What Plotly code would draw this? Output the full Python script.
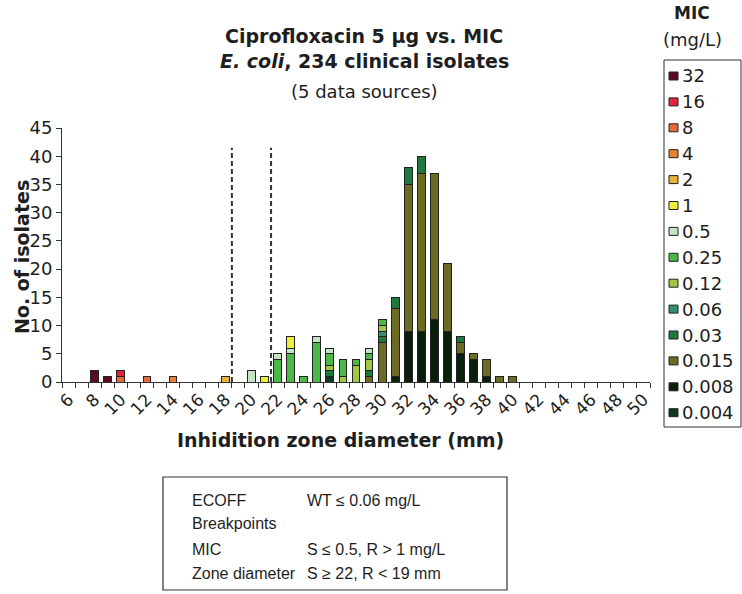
import plotly.graph_objects as go

# ---------------- data ----------------
diameters = [6, 7, 8, 9, 10, 11, 12, 13, 14, 15, 16, 17, 18, 19, 20, 21, 22, 23, 24, 25,
             26, 27, 28, 29, 30, 31, 32, 33, 34, 35, 36, 37, 38, 39, 40, 41, 42, 43, 44, 45,
             46, 47, 48, 49, 50]
tick_labels = ["6", "8", "10", "12", "14", "16", "18", "20", "22", "24", "26", "28", "30",
               "32", "34", "36", "38", "40", "42", "44", "46", "48", "50"]
tick_positions = [6, 8, 10, 12, 14, 16, 18, 20, 22, 24, 26, 28, 30, 32, 34, 36, 38, 40, 42, 44, 46, 48, 50]

#                6  7  8  9 10 11 12 13 14 15 16 17 18 19 20 21 22 23 24 25 26 27 28 29 30 31 32 33 34 35 36 37 38 39 40 41 42 43 44 45 46 47 48 49 50
mic_32    = [0, 0, 2, 1, 0, 0, 0, 0, 0, 0, 0, 0, 0, 0, 0, 0, 0, 0, 0, 0, 0, 0, 0, 0, 0, 0, 0, 0, 0, 0, 0, 0, 0, 0, 0, 0, 0, 0, 0, 0, 0, 0, 0, 0, 0]
mic_16    = [0, 0, 0, 0, 1, 0, 0, 0, 0, 0, 0, 0, 0, 0, 0, 0, 0, 0, 0, 0, 0, 0, 0, 0, 0, 0, 0, 0, 0, 0, 0, 0, 0, 0, 0, 0, 0, 0, 0, 0, 0, 0, 0, 0, 0]
mic_8     = [0, 0, 0, 0, 1, 0, 1, 0, 0, 0, 0, 0, 0, 0, 0, 0, 0, 0, 0, 0, 0, 0, 0, 0, 0, 0, 0, 0, 0, 0, 0, 0, 0, 0, 0, 0, 0, 0, 0, 0, 0, 0, 0, 0, 0]
mic_4     = [0, 0, 0, 0, 0, 0, 0, 0, 1, 0, 0, 0, 0, 0, 0, 0, 0, 0, 0, 0, 0, 0, 0, 0, 0, 0, 0, 0, 0, 0, 0, 0, 0, 0, 0, 0, 0, 0, 0, 0, 0, 0, 0, 0, 0]
mic_2     = [0, 0, 0, 0, 0, 0, 0, 0, 0, 0, 0, 0, 1, 0, 0, 0, 0, 0, 0, 0, 0, 0, 0, 0, 0, 0, 0, 0, 0, 0, 0, 0, 0, 0, 0, 0, 0, 0, 0, 0, 0, 0, 0, 0, 0]
mic_1     = [0, 0, 0, 0, 0, 0, 0, 0, 0, 0, 0, 0, 0, 0, 0, 1, 0, 2, 0, 0, 0, 0, 0, 0, 0, 0, 0, 0, 0, 0, 0, 0, 0, 0, 0, 0, 0, 0, 0, 0, 0, 0, 0, 0, 0]
mic_0_5   = [0, 0, 0, 0, 0, 0, 0, 0, 0, 0, 0, 0, 0, 0, 2, 0, 1, 1, 0, 1, 1, 0, 0, 1, 0, 0, 0, 0, 0, 0, 0, 0, 0, 0, 0, 0, 0, 0, 0, 0, 0, 0, 0, 0, 0]
mic_0_25  = [0, 0, 0, 0, 0, 0, 0, 0, 0, 0, 0, 0, 0, 0, 0, 0, 4, 5, 1, 7, 2, 3, 1, 1, 1, 0, 0, 0, 0, 0, 0, 0, 0, 0, 0, 0, 0, 0, 0, 0, 0, 0, 0, 0, 0]
mic_0_12  = [0, 0, 0, 0, 0, 0, 0, 0, 0, 0, 0, 0, 0, 0, 0, 0, 0, 0, 0, 0, 1, 1, 3, 2, 1, 0, 0, 0, 0, 0, 0, 0, 0, 0, 0, 0, 0, 0, 0, 0, 0, 0, 0, 0, 0]
mic_0_06  = [0, 0, 0, 0, 0, 0, 0, 0, 0, 0, 0, 0, 0, 0, 0, 0, 0, 0, 0, 0, 0, 0, 0, 0, 1, 0, 0, 0, 0, 0, 0, 0, 0, 0, 0, 0, 0, 0, 0, 0, 0, 0, 0, 0, 0]
mic_0_03  = [0, 0, 0, 0, 0, 0, 0, 0, 0, 0, 0, 0, 0, 0, 0, 0, 0, 0, 0, 0, 1, 0, 0, 1, 1, 2, 3, 3, 0, 0, 1, 0, 0, 0, 0, 0, 0, 0, 0, 0, 0, 0, 0, 0, 0]
mic_0_015 = [0, 0, 0, 0, 0, 0, 0, 0, 0, 0, 0, 0, 0, 0, 0, 0, 0, 0, 0, 0, 0, 0, 0, 1, 7, 12, 26, 28, 26, 12, 2, 1, 3, 1, 1, 0, 0, 0, 0, 0, 0, 0, 0, 0, 0]
mic_0_008 = [0, 0, 0, 0, 0, 0, 0, 0, 0, 0, 0, 0, 0, 0, 0, 0, 0, 0, 0, 0, 0, 0, 0, 0, 0, 1, 9, 9, 11, 9, 5, 4, 1, 0, 0, 0, 0, 0, 0, 0, 0, 0, 0, 0, 0]
mic_0_004 = [0, 0, 0, 0, 0, 0, 0, 0, 0, 0, 0, 0, 0, 0, 0, 0, 0, 0, 0, 0, 1, 0, 0, 0, 0, 0, 0, 0, 0, 0, 0, 0, 0, 0, 0, 0, 0, 0, 0, 0, 0, 0, 0, 0, 0]

mic_labels = ["32", "16", "8", "4", "2", "1", "0.5", "0.25", "0.12", "0.06", "0.03", "0.015", "0.008", "0.004"]
mic_series = [mic_32, mic_16, mic_8, mic_4, mic_2, mic_1, mic_0_5, mic_0_25, mic_0_12,
              mic_0_06, mic_0_03, mic_0_015, mic_0_008, mic_0_004]
mic_colors = ["#5c0c20", "#e0243a", "#e6683c", "#e88232", "#e8b43a", "#eeee3c", "#c4e4c4",
              "#4cb848", "#a0c840", "#2e9070", "#1e7a3c", "#6b6b24", "#0a1e0c", "#10381c"]

zone_r_below = 19   # R < 19 mm
zone_s_atleast = 22  # S >= 22 mm

# ---------------- geometry helpers (pixels -> paper) ----------------
L, R, T, B = 62, 650, 128, 382
W, H = 742, 594


def fx(px):
    return (px - L) / (R - L)


def fy(py):
    return (B - py) / (B - T)


CH_FONT = "DejaVu Sans"
INK = "#1e1e1e"

fig = go.Figure()

# bottom of stack = lowest MIC
for lab, vals, col in reversed(list(zip(mic_labels, mic_series, mic_colors))):
    fig.add_trace(go.Bar(
        x=diameters,
        y=[v if v else None for v in vals],
        name=lab,
        marker=dict(color=col, line=dict(color="#222222", width=1)),
        width=0.6,
        showlegend=False,
    ))

shapes = []
for bp in (zone_r_below - 0.5, zone_s_atleast - 0.5):
    shapes.append(dict(type="line", xref="x", yref="y", x0=bp, x1=bp, y0=0, y1=41.5,
                       line=dict(color="#333333", width=2, dash="5px,3px")))

annotations = []


def note(text, px, py, size, xanchor="center", angle=0, family=CH_FONT):
    annotations.append(dict(text=text, x=fx(px), y=fy(py), xref="paper", yref="paper",
                            xanchor=xanchor, yanchor="middle", showarrow=False, textangle=angle,
                            font=dict(family=family, size=size, color=INK)))


# titles
note("<b>Ciprofloxacin 5 μg vs. MIC</b>", 364, 36, 19)
note("<b><i>E. coli</i>, 234 clinical isolates</b>", 364, 61, 19)
note("(5 data sources)", 364, 91, 18)
# axis titles
note("<b>No. of isolates</b>", 22, 257, 19, angle=-90)
note("<b>Inhidition zone diameter (mm)</b>", 340, 440, 19)

# legend (drawn from the MIC lists)
note("<b>MIC</b>", 692, 13, 17)
note("(mg/L)", 692, 40, 18)
shapes.append(dict(type="rect", xref="paper", yref="paper", x0=fx(664), x1=fx(741),
                   y0=fy(60), y1=fy(427), line=dict(color="#333333", width=1), fillcolor="rgba(0,0,0,0)"))
for i, (lab, col) in enumerate(zip(mic_labels, mic_colors)):
    yc = 76 + 25.9 * i
    shapes.append(dict(type="rect", xref="paper", yref="paper", x0=fx(669), x1=fx(678),
                       y0=fy(yc - 4), y1=fy(yc + 4), fillcolor=col,
                       line=dict(color="#222222", width=1)))
    note(lab, 680, yc, 18, xanchor="left")

# info box
BOX_FONT = "Liberation Sans, Arial"
shapes.append(dict(type="rect", xref="paper", yref="paper", x0=fx(163), x1=fx(507),
                   y0=fy(477), y1=fy(590), line=dict(color="#333333", width=1.2),
                   fillcolor="rgba(0,0,0,0)"))
box_rows = [("ECOFF", "WT ≤ 0.06 mg/L", 500),
            ("Breakpoints", "", 523),
            ("MIC", "S ≤ 0.5, R > 1 mg/L", 549),
            ("Zone diameter", "S ≥ 22, R < 19 mm", 573)]
for left, right, yy in box_rows:
    note(left, 190, yy, 16, xanchor="left", family=BOX_FONT)
    if right:
        note(right, 305, yy, 16, xanchor="left", family=BOX_FONT)

fig.update_layout(
    width=W, height=H,
    margin=dict(l=L, r=W - R, t=T, b=H - B, autoexpand=False),
    barmode="stack",
    paper_bgcolor="white", plot_bgcolor="white",
    font=dict(family=CH_FONT, color=INK),
    shapes=shapes, annotations=annotations,
    showlegend=False,
    xaxis=dict(range=[5.5, 50.5], tickmode="array", tickvals=tick_positions, ticktext=tick_labels,
               tickangle=-45, ticks="", showline=True, linecolor="#333333", linewidth=1,
               showgrid=False, zeroline=False, tickfont=dict(size=17, family=CH_FONT, color=INK),
               minor=dict(ticks="outside", tick0=5.5, dtick=1, ticklen=5, tickcolor="#333333",
                          showgrid=False)),
    yaxis=dict(range=[0, 45], dtick=5, ticks="outside", ticklen=5, tickcolor="#333333",
               showline=True, linecolor="#333333", linewidth=1, showgrid=False, zeroline=False,
               tickfont=dict(size=18, family=CH_FONT, color=INK)),
)

fig.write_html("out.html", config={"displayModeBar": False},
               post_script="document.body.style.margin='0';document.body.style.overflow='hidden';")
